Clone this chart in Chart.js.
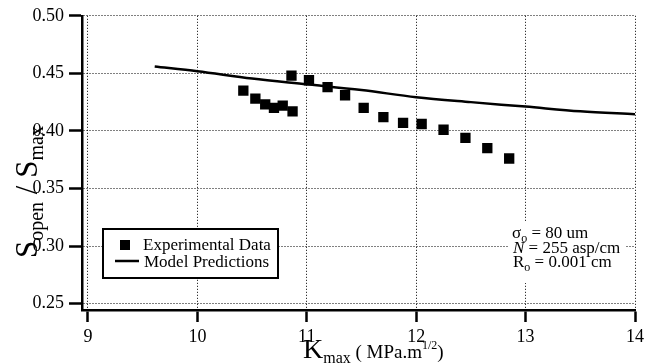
<!DOCTYPE html>
<html><head><meta charset="utf-8">
<script src="https://cdn.jsdelivr.net/npm/chart.js@4/dist/chart.umd.min.js"></script>
<style>html,body{margin:0;padding:0;background:#fff}canvas{display:block}</style>
</head><body>
<canvas id="c" width="648" height="364"></canvas>
<script>
// ---- data ----
const expK = [10.42,10.53,10.62,10.70,10.78,10.87,10.86,11.02,11.19,11.35,11.52,11.70,11.88,12.05,12.25,12.45,12.65,12.85];
const expS = [0.435,0.428,0.423,0.420,0.422,0.417,0.448,0.444,0.438,0.431,0.420,0.412,0.407,0.406,0.401,0.394,0.385,0.376];
const modelK = [9.61,10.0,10.5,11.0,11.5,12.0,12.5,13.0,13.5,14.0];
const modelS = [0.456,0.4518,0.4455,0.4405,0.4355,0.4293,0.425,0.4211,0.417,0.4145];
const xTicks = [9,10,11,12,13,14];
const yTicks = [0.25,0.30,0.35,0.40,0.45,0.50];
const seriesLabels = ['Experimental Data','Model Predictions'];

const SERIF = '"Liberation Serif", "Times New Roman", serif';
const f = (s, it) => (it ? 'italic ' : '') + s + 'px ' + SERIF;

function runs(ctx, x, y, parts) {
  let cx = x;
  for (const p of parts) {
    ctx.font = p.f;
    ctx.fillText(p.t, cx, y + (p.dy || 0));
    cx += ctx.measureText(p.t).width + (p.gap || 0);
  }
  return cx;
}

const decor = {
  id: 'decor',
  afterDraw(chart) {
    const ctx = chart.ctx;
    ctx.save();
    ctx.fillStyle = '#000';
    ctx.textAlign = 'left';
    ctx.textBaseline = 'alphabetic';

    // Y axis title (rotated)
    ctx.save();
    ctx.translate(37, 258);
    ctx.rotate(-Math.PI / 2);
    runs(ctx, 0, 0, [
      {t: 'S', f: f(31)},
      {t: 'open', f: f(20), dy: 6},
      {t: ' / ', f: f(31)},
      {t: 'S', f: f(31)},
      {t: 'max', f: f(20), dy: 6}
    ]);
    ctx.restore();

    // X axis title
    runs(ctx, 303, 358, [
      {t: 'K', f: f(28)},
      {t: 'max', f: f(16), dy: 5},
      {t: ' ( MPa.m', f: f(19)},
      {t: '1/2', f: f(12), dy: -9},
      {t: ')', f: f(19)}
    ]);

    // Legend box
    const lx = 103, ly = 229, lw = 175, lh = 49;
    ctx.fillStyle = '#fff';
    ctx.fillRect(lx, ly, lw, lh);
    ctx.strokeStyle = '#000';
    ctx.lineWidth = 2;
    ctx.strokeRect(lx, ly, lw, lh);
    ctx.fillStyle = '#000';
    ctx.fillRect(120, 240, 10, 10);
    ctx.beginPath();
    ctx.moveTo(115, 261); ctx.lineTo(139, 261);
    ctx.lineWidth = 2.5; ctx.stroke();
    ctx.font = f(17);
    ctx.fillText(seriesLabels[0], 143, 250);
    ctx.fillText(seriesLabels[1], 144, 267);

    // Annotation block
    ctx.fillStyle = '#fff';
    ctx.fillRect(508, 222, 117, 61);
    ctx.fillStyle = '#000';
    runs(ctx, 512, 237.5, [
      {t: 'σ', f: f(17)}, {t: 'o', f: f(12), dy: 4}, {t: ' = 80 um', f: f(17)}
    ]);
    runs(ctx, 513, 252.5, [
      {t: 'N', f: f(17, true)}, {t: ' = 255 asp/cm', f: f(17)}
    ]);
    runs(ctx, 513, 267, [
      {t: 'R', f: f(17)}, {t: 'o', f: f(12), dy: 4}, {t: ' = 0.001 cm', f: f(17)}
    ]);
    ctx.restore();
  }
};

new Chart(document.getElementById('c'), {
  type: 'scatter',
  data: {
    datasets: [
      {
        label: seriesLabels[0],
        data: expK.map((x, i) => ({x, y: expS[i]})),
        pointStyle: 'rect', pointRadius: 7.3, pointBorderWidth: 0,
        backgroundColor: '#000', borderColor: '#000', showLine: false
      },
      {
        label: seriesLabels[1],
        data: modelK.map((x, i) => ({x, y: modelS[i]})),
        showLine: true, borderColor: '#000', borderWidth: 2.5,
        pointRadius: 0, cubicInterpolationMode: 'monotone', fill: false
      }
    ]
  },
  options: {
    responsive: false, animation: false, devicePixelRatio: 1,
    layout: {padding: {top: 13, right: 11, left: 0, bottom: 0}},
    plugins: {legend: {display: false}, tooltip: {enabled: false}},
    scales: {
      x: {
        type: 'linear', min: 8.9454, max: 14,
        afterBuildTicks: s => { s.ticks = xTicks.map(v => ({value: v})); },
        afterFit: s => { s.height = 54; },
        grid: {color: '#000', lineWidth: 1, tickColor: '#000', tickWidth: 2.5, tickLength: 12},
        border: {display: true, color: '#000', width: 2.5, dash: [1, 2]},
        ticks: {color: '#000', font: {family: SERIF, size: 18}, padding: 4, maxRotation: 0, autoSkip: false,
                callback: v => String(v)}
      },
      y: {
        type: 'linear', min: 0.2444, max: 0.5,
        afterBuildTicks: s => { s.ticks = yTicks.map(v => ({value: v})); },
        afterFit: s => { s.width = 82; },
        grid: {color: '#000', lineWidth: 1, tickColor: '#000', tickWidth: 2.5, tickLength: 13},
        border: {display: true, color: '#000', width: 2.5, dash: [1, 2]},
        ticks: {color: '#000', font: {family: SERIF, size: 18}, padding: 5, autoSkip: false,
                callback: v => v.toFixed(2)}
      }
    }
  },
  plugins: [decor]
});
</script>
</body></html>
